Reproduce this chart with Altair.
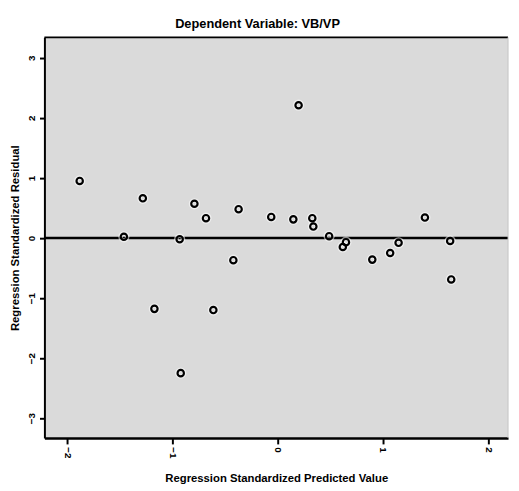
import altair as alt
import pandas as pd

pred = [-1.88, -1.46, -1.28, -1.17, -0.93, -0.92, -0.79, -0.68, -0.61, -0.42,
        -0.37, -0.06, 0.20, 0.15, 0.33, 0.34, 0.49, 0.62, 0.65, 0.90,
        1.07, 1.15, 1.40, 1.64, 1.65]
resid = [0.95, 0.02, 0.66, -1.18, -0.02, -2.25, 0.57, 0.33, -1.20, -0.37,
         0.48, 0.35, 2.21, 0.31, 0.33, 0.19, 0.03, -0.15, -0.07, -0.36,
         -0.25, -0.08, 0.34, -0.05, -0.69]
x_ticks = [-2, -1, 0, 1, 2]
y_ticks = [-3, -2, -1, 0, 1, 2, 3]

df = pd.DataFrame({"pred": pred, "resid": resid})

W, H = 471, 407
FONT = "Liberation Sans Narrow, Liberation Sans, Arial"

xs = alt.Scale(domain=[-2.215, 2.19], nice=False, zero=False)
ys = alt.Scale(domain=[-3.33, 3.34], nice=False, zero=False)

xaxis = alt.Axis(values=x_ticks, format="d", title="Regression Standardized Predicted Value",
                 labelAngle=90, labelFontSize=10, labelFontWeight="bold", labelFont=FONT,
                 labelAlign="left", labelBaseline="middle",
                 labelColor="black", tickColor="black", tickSize=6, tickWidth=2,
                 domainColor="black", domainWidth=2.5, grid=False,
                 titleFont=FONT, titleFontSize=11.5, titleFontWeight="bold",
                 titleColor="black", titleY=44, titleBaseline="alphabetic", labelPadding=3)
yaxis = alt.Axis(values=y_ticks, format="d", title="Regression Standardized Residual",
                 labelAngle=-90, labelFontSize=10, labelFontWeight="bold", labelFont=FONT,
                 labelColor="black", tickColor="black", tickSize=5, tickWidth=2,
                 labelAlign="center", labelBaseline="bottom",
                 domainColor="black", domainWidth=2, grid=False,
                 titleFont=FONT, titleFontSize=11.5, titleFontWeight="bold",
                 titleColor="black", titleX=-26, titleBaseline="alphabetic", labelPadding=3)

base = alt.Chart(df)

halo = base.mark_point(shape="circle", filled=False, stroke="white",
                       strokeWidth=4.5, size=48, opacity=0.55).encode(
    x=alt.X("pred:Q", scale=xs, axis=xaxis),
    y=alt.Y("resid:Q", scale=ys, axis=yaxis),
)
pts = base.mark_point(shape="circle", filled=False, stroke="black",
                      strokeWidth=2.2, size=42, opacity=1).encode(
    x=alt.X("pred:Q", scale=xs),
    y=alt.Y("resid:Q", scale=ys),
)
zero = alt.Chart(pd.DataFrame({"z": [0]})).mark_rule(
    color="black", strokeWidth=2.5).encode(y=alt.Y("z:Q", scale=ys))
top = alt.Chart(pd.DataFrame({"z": [0]})).mark_rule(
    color="black", strokeWidth=2).encode(x=alt.value(0), x2=alt.value(W), y=alt.value(0))
right = alt.Chart(pd.DataFrame({"z": [0]})).mark_rule(
    color="#c4c4c4", strokeWidth=1).encode(x=alt.value(W), y=alt.value(0), y2=alt.value(H))

chart = alt.layer(zero, halo, pts, top, right).properties(
    width=W, height=H,
    background="white",
    title=alt.TitleParams("Dependent Variable: VB/VP", font=FONT, fontSize=13,
                          fontWeight="bold", color="black", offset=6, dx=-19),
    autosize=alt.AutoSizeParams(type="none"),
    padding={"left": 37, "top": 26, "right": 3, "bottom": 50},
).configure_view(fill="#dadada", stroke=None)

chart.save("out.html", embed_options={"renderer": "svg", "actions": False})
